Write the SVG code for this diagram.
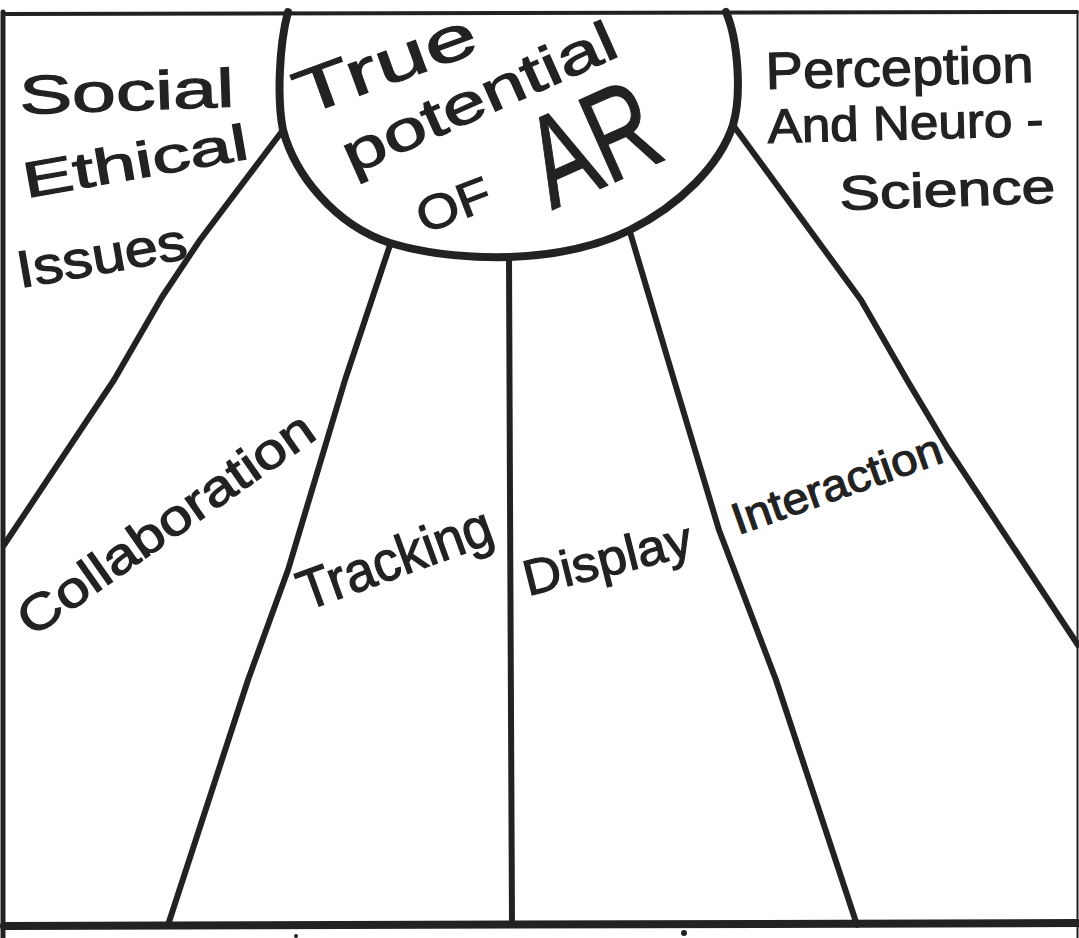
<svg xmlns="http://www.w3.org/2000/svg" width="1079" height="938" viewBox="0 0 1079 938">
<style>
.ln{fill:none;stroke:#222;stroke-linecap:round;stroke-linejoin:round}
.t{font-family:"Liberation Sans","DejaVu Sans",sans-serif;fill:#222;stroke:#222;stroke-width:1.2}
</style>
<rect width="1079" height="938" fill="#fff"/>
<g id="frame">
<path class="ln" d="M3,14 L1077,12" stroke-width="4"/>
<path class="ln" d="M3,12 L3,938" stroke-width="5" stroke-linecap="butt"/>
<path class="ln" d="M1077.5,12 L1077.5,938" stroke-width="2" stroke-linecap="butt"/>
<path class="ln" d="M4,926 L1079,923" stroke-width="8" stroke-linecap="butt"/>
<circle cx="296" cy="936" r="2" fill="#222"/>
<circle cx="684" cy="933" r="3" fill="#222"/>
</g>
<g id="connectors">
<path class="ln" stroke-width="6" d="M283,130 L200,240 L162,297 L114,380 L4,545"/>
<path class="ln" stroke-width="6" d="M390,245 L345,380 L288,570 L248,680 L168,925"/>
<path class="ln" stroke-width="6" d="M509,257 L510,500 L512,925"/>
<path class="ln" stroke-width="6" d="M630,232 L674,380 L719,530 L776,680 L857,925"/>
<path class="ln" stroke-width="6" d="M733,125 L861,300 L907,380 L947,447 L1078,645"/>
</g>
<g id="center">
<path class="ln" stroke-width="8" d="M288,12 C279,45 277,100 283,130 C295,175 335,225 390,243 C430,255 470,258 510,257 C560,255 600,245 630,230 C680,205 720,165 733,125 C742,95 738,40 726,12"/>
<text class="t" font-size="62" textLength="190" lengthAdjust="spacingAndGlyphs" transform="translate(303,116) rotate(-20)">True</text>
<text class="t" font-size="56" textLength="295" lengthAdjust="spacingAndGlyphs" transform="translate(352,175) rotate(-24)">potential</text>
<text class="t" font-size="48" textLength="76" lengthAdjust="spacingAndGlyphs" transform="translate(424,234) rotate(-21)">OF</text>
<text class="t" font-size="130" textLength="128" lengthAdjust="spacingAndGlyphs" transform="translate(552,210) rotate(-24)">AR</text>
</g>
<g id="social">
<text class="t" font-size="54" textLength="215" lengthAdjust="spacingAndGlyphs" transform="translate(20,114) rotate(-2)">Social</text>
<text class="t" font-size="50" textLength="228" lengthAdjust="spacingAndGlyphs" transform="translate(26,198) rotate(-10)">Ethical</text>
<text class="t" font-size="52" textLength="172" lengthAdjust="spacingAndGlyphs" transform="translate(20,288) rotate(-10)">Issues</text>
</g>
<g id="perception">
<text class="t" font-size="52" textLength="268" lengthAdjust="spacingAndGlyphs" transform="translate(766,89) rotate(-1.5)">Perception</text>
<text class="t" font-size="48" textLength="276" lengthAdjust="spacingAndGlyphs" transform="translate(768,143) rotate(-1.5)">And Neuro -</text>
<text class="t" font-size="48" textLength="216" lengthAdjust="spacingAndGlyphs" transform="translate(840,210) rotate(-2)">Science</text>
</g>
<g id="collaboration">
<text class="t" font-size="50" textLength="350" lengthAdjust="spacingAndGlyphs" transform="translate(32,638) rotate(-35)">Collaboration</text>
</g>
<g id="tracking">
<text class="t" font-size="56" textLength="203" lengthAdjust="spacingAndGlyphs" transform="translate(306,611) rotate(-20)">Tracking</text>
</g>
<g id="display">
<text class="t" font-size="50" textLength="172" lengthAdjust="spacingAndGlyphs" transform="translate(528,596) rotate(-14)">Display</text>
</g>
<g id="interaction">
<text class="t" font-size="44" textLength="220" lengthAdjust="spacingAndGlyphs" transform="translate(738,535) rotate(-19.5)">Interaction</text>
</g>
</svg>
